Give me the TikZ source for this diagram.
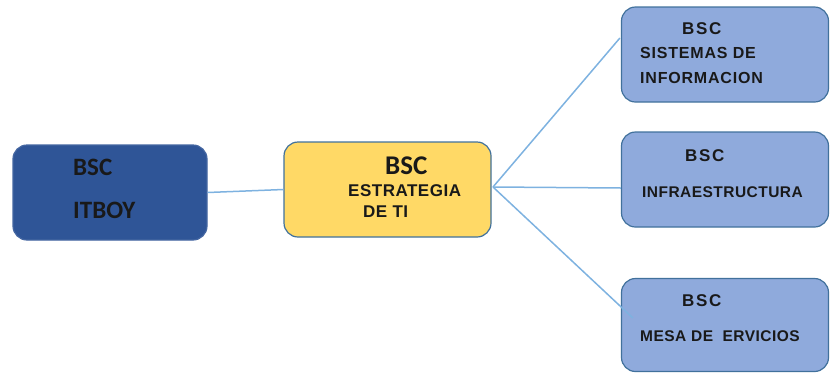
\documentclass[tikz,border=0pt]{standalone}
\usepackage{fontspec}
\usetikzlibrary{calc}
\setmainfont{Liberation Sans}
\newfontfamily\calib{Carlito}
\newfontfamily\arsp[LetterSpace=3]{Liberation Sans}
\newfontfamily\arspm[LetterSpace=5]{Liberation Sans}
\newfontfamily\arspw[LetterSpace=10]{Liberation Sans}
\definecolor{leftfill}{HTML}{2F5597}
\definecolor{midfill}{HTML}{FFD966}
\definecolor{rightfill}{HTML}{8FAADC}
\definecolor{boxline}{HTML}{41719C}
\definecolor{conn}{HTML}{7EB2E0}
\tikzset{
  box/.style={rounded corners=14pt, line width=1.2pt, inner sep=0pt},
  leftbox/.style={box, fill=leftfill, draw=leftfill!90!white},
  midbox/.style={box, fill=midfill, draw=boxline},
  rightbox/.style={box, fill=rightfill, draw=boxline},
  txt/.style={anchor=west, inner sep=0pt, text=black!90},
  connector/.style={draw=conn, line width=1.5pt}
}
\begin{document}
\begin{tikzpicture}[x=1pt,y=-1pt]
\useasboundingbox (0,0) rectangle (830,373);
% boxes
\node[leftbox, minimum width=194pt, minimum height=95pt] (itboy) at (110,192.5) {};
\node[midbox, minimum width=207pt, minimum height=95pt] (estr) at (387.5,189.5) {};
\node[rightbox, minimum width=207pt, minimum height=95pt] (sist) at (725,54.5) {};
\node[rightbox, minimum width=207pt, minimum height=95pt] (infra) at (725,179.5) {};
\node[rightbox, minimum width=207pt, minimum height=93pt] (mesa) at (725,325) {};
% connectors
\coordinate (hub) at (493,187);
\draw[connector] (itboy.east) -- (estr.west);
\draw[connector] (hub) -- ($(sist.west)+(-1,-16.5)$);
\draw[connector] (hub) -- ($(infra.west)+(0,8.5)$);
\draw[connector] (hub) -- ($(mesa.west)+(12,-7)$);
% texts left
\node[txt, font=\calib\bfseries\fontsize{25}{25}\selectfont] (t1) at (73,167) {BSC};
\node[txt, font=\calib\bfseries\fontsize{25}{25}\selectfont] (t2) at (73,210) {ITBOY};
% texts middle
\node[txt, font=\calib\bfseries\fontsize{27}{27}\selectfont] (t3) at (385,166) {BSC};
\node[txt, font=\arsp\bfseries\fontsize{17}{17}\selectfont] (t4) at (348,191) {ESTRATEGIA};
\node[txt, font=\arsp\bfseries\fontsize{17}{17}\selectfont] (t5) at (363,212) {DE TI};
% texts right
\node[txt, font=\arspw\bfseries\fontsize{17}{17}\selectfont] (t6) at (682,29) {BSC};
\node[txt, font=\arspm\bfseries\fontsize{16}{16}\selectfont] (t7) at (640,53) {SISTEMAS DE};
\node[txt, font=\arspm\bfseries\fontsize{16}{16}\selectfont] (t8) at (640,78) {INFORMACION};
\node[txt, font=\arspw\bfseries\fontsize{17}{17}\selectfont] (t9) at (685,155.5) {BSC};
\node[txt, font=\arsp\bfseries\fontsize{15.5}{15.5}\selectfont] (t10) at (642,192) {INFRAESTRUCTURA};
\node[txt, font=\arspw\bfseries\fontsize{17}{17}\selectfont] (t11) at (682,301) {BSC};
\node[txt, font=\arsp\bfseries\fontsize{15.5}{15.5}\selectfont] (t12) at (640,336) {MESA DE\ \ ERVICIOS};
\end{tikzpicture}
\end{document}
